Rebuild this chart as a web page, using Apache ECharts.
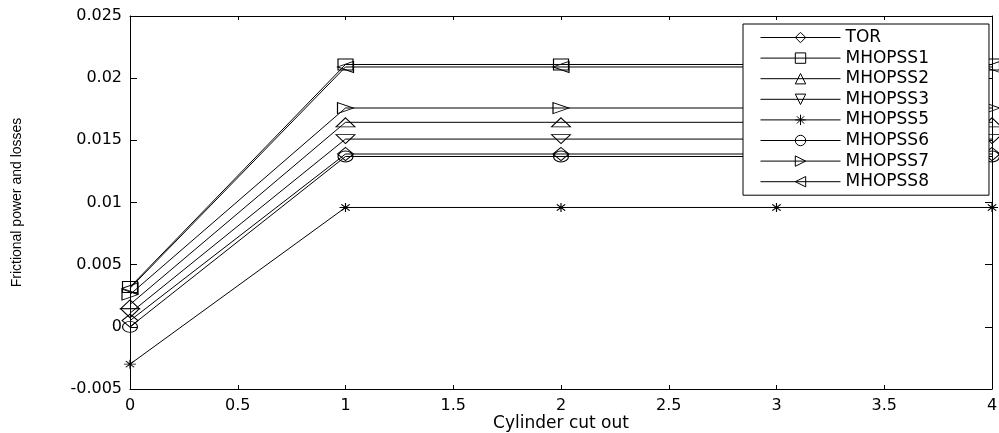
<!DOCTYPE html>
<html>
<head>
<meta charset="utf-8">
<script src="https://cdn.jsdelivr.net/npm/echarts@6/dist/echarts.min.js"></script>
<style>
  html, body { margin: 0; padding: 0; background: #fff; }
  #chart { width: 999px; height: 433px; }
</style>
</head>
<body>
<div id="chart"></div>
<script>
const cutOut = [0, 1, 2, 3, 4]
const names = ['TOR', 'MHOPSS1', 'MHOPSS2', 'MHOPSS3', 'MHOPSS5', 'MHOPSS6', 'MHOPSS7', 'MHOPSS8']
const tor = [0.0005, 0.0139, 0.0139, 0.0139, 0.0139]
const mhopss1 = [0.0032, 0.0211, 0.0211, 0.0211, 0.0211]
const mhopss2 = [0.0018, 0.01645, 0.01645, 0.01645, 0.01645]
const mhopss3 = [0.0011, 0.0151, 0.0151, 0.0151, 0.0151]
const mhopss5 = [-0.003, 0.0096, 0.0096, 0.0096, 0.0096]
const mhopss6 = [0.0, 0.0137, 0.0137, 0.0137, 0.0137]
const mhopss7 = [0.0026, 0.0176, 0.0176, 0.0176, 0.0176]
const mhopss8 = [0.0031, 0.0209, 0.0209, 0.0209, 0.0209]
const allValues = [tor, mhopss1, mhopss2, mhopss3, mhopss5, mhopss6, mhopss7, mhopss8]

// matlab-ish marker shapes
const markers = [
  { symbol: 'diamond', size: [16, 13] },
  { symbol: 'rect', size: [15, 11] },
  { symbol: 'triangle', size: [19, 9] },
  { symbol: 'path://M0,0 L10,0 L5,10 Z', size: [19, 9] },
  { symbol: 'path://M5,0 L5,10 M0,5 L10,5 M1.5,1.5 L8.5,8.5 M8.5,1.5 L1.5,8.5', size: [12, 9] },
  { symbol: 'circle', size: [15, 11] },
  { symbol: 'path://M0,0 L10,5 L0,10 Z', size: [16, 11] },
  { symbol: 'path://M10,0 L0,5 L10,10 Z', size: [16, 11] }
]

const fmt = v => String(parseFloat(v.toFixed(4)))

const chart = echarts.init(document.getElementById('chart'))

const series = names.map((name, i) => ({
  name: name,
  type: 'line',
  data: cutOut.map((x, j) => [x, allValues[i][j]]),
  symbol: markers[i].symbol,
  symbolSize: markers[i].size,
  showAllSymbol: true,
  clip: false,
  lineStyle: { color: '#000', width: 1 },
  itemStyle: { color: 'rgba(0,0,0,0)', borderColor: '#000', borderWidth: 1 },
  emphasis: { disabled: true },
  z: 2
}))

const tickFont = { color: '#000', fontSize: 16, fontFamily: 'DejaVu Sans' }
const frameLine = { onZero: false, lineStyle: { color: '#000', width: 1 } }

chart.setOption({
  animation: false,
  backgroundColor: '#fff',
  grid: { left: 130, right: 7, top: 16, bottom: 44, outerBoundsMode: 'none' },
  legend: {
    data: names,
    orient: 'vertical',
    left: 743,
    top: 24,
    padding: [5, 60, 5, 17],
    itemWidth: 80,
    itemHeight: 13,
    itemGap: 3.6,
    backgroundColor: '#fff',
    borderColor: '#000',
    borderWidth: 1,
    borderRadius: 0,
    lineStyle: { width: 1 },
    itemStyle: { borderWidth: 1 },
    textStyle: { color: '#000', fontSize: 17, fontFamily: 'DejaVu Sans' },
    selectedMode: false,
    z: 10
  },
  xAxis: [
    {
      type: 'value',
      min: 0,
      max: 4,
      interval: 0.5,
      name: 'Cylinder cut out',
      nameLocation: 'middle',
      nameGap: 26,
      nameMoveOverlap: false,
      nameTextStyle: { color: '#000', fontSize: 17, fontFamily: 'DejaVu Sans' },
      axisLine: frameLine,
      axisTick: { inside: true, length: 4, lineStyle: { color: '#000' } },
      axisLabel: { ...tickFont, margin: 9, formatter: fmt },
      splitLine: { show: false }
    },
    {
      type: 'value',
      position: 'top',
      min: 0,
      max: 4,
      interval: 0.5,
      axisLine: { show: true, ...frameLine },
      axisTick: { inside: true, length: 4, lineStyle: { color: '#000' } },
      axisLabel: { show: false },
      splitLine: { show: false }
    }
  ],
  yAxis: [
    {
      type: 'value',
      min: -0.005,
      max: 0.025,
      interval: 0.005,
      name: 'Frictional power and losses',
      nameLocation: 'middle',
      nameGap: 106,
      nameMoveOverlap: false,
      nameTextStyle: { color: '#000', fontSize: 14, fontFamily: 'Liberation Sans' },
      axisLine: { show: true, ...frameLine },
      axisTick: { inside: true, length: 7, lineStyle: { color: '#000' } },
      axisLabel: { ...tickFont, margin: 8, formatter: fmt },
      splitLine: { show: false }
    },
    {
      type: 'value',
      position: 'right',
      min: -0.005,
      max: 0.025,
      interval: 0.005,
      axisLine: { show: true, ...frameLine },
      axisTick: { inside: true, length: 7, lineStyle: { color: '#000' } },
      axisLabel: { show: false },
      splitLine: { show: false }
    }
  ],
  series: series
})
</script>
</body>
</html>
